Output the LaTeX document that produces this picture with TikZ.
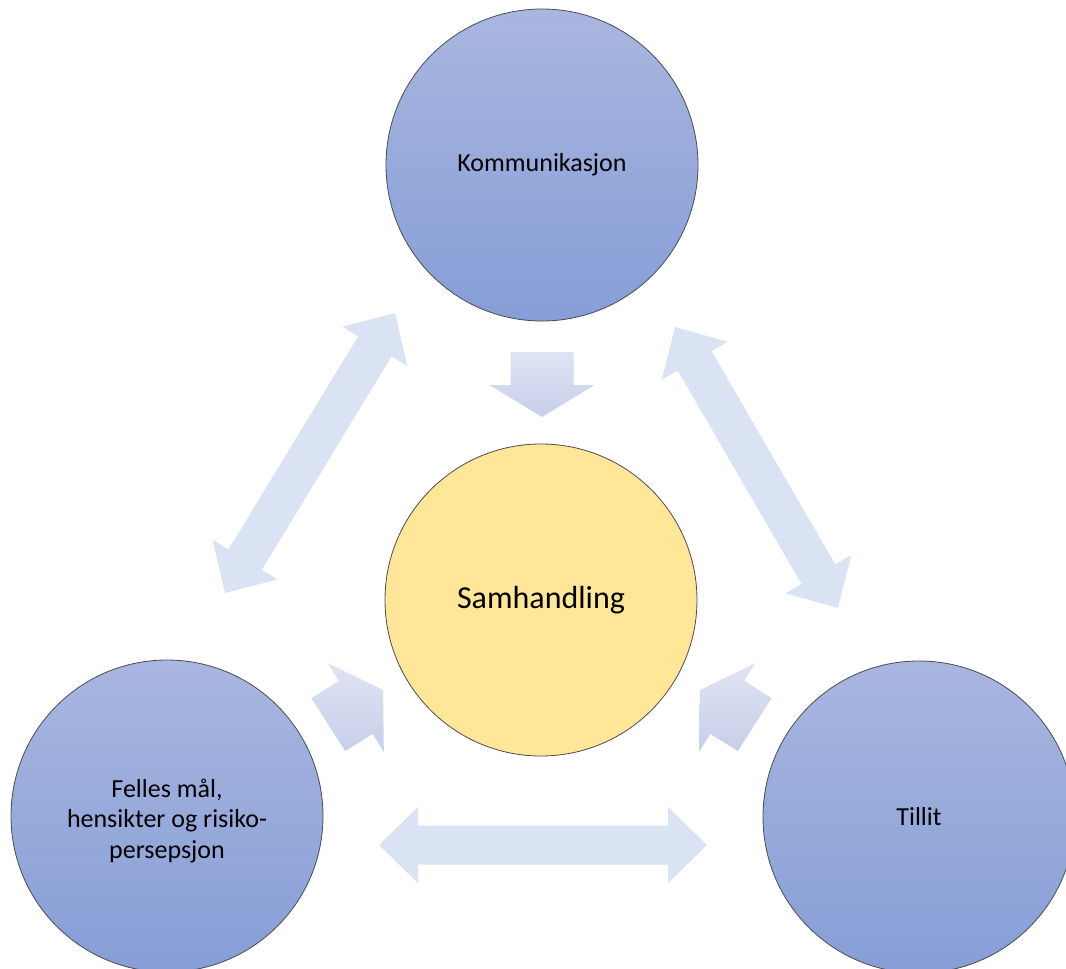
\documentclass[tikz,border=0pt]{standalone}
\usepackage{fontspec}
\setmainfont{Carlito}
\definecolor{circtop}{RGB}{169,182,224}
\definecolor{circbot}{RGB}{134,158,214}
\definecolor{yel}{RGB}{255,230,153}
\definecolor{dbl}{RGB}{218,227,243}
\definecolor{smtop}{RGB}{223,228,244}
\definecolor{smbot}{RGB}{199,206,233}
\definecolor{edgegray}{RGB}{75,75,80}
\tikzset{
  basecirc/.style={circle, minimum size=312pt, inner sep=0pt, draw=edgegray, line width=0.8pt, align=center},
  bluecirc/.style={basecirc, top color=circtop, bottom color=circbot, font=\fontsize{26}{30.5}\selectfont},
  yelcirc/.style={basecirc, fill=yel, font=\fontsize{32}{38}\selectfont},
  dblfill/.style={fill=dbl, draw=none},
  smallfill/.style={top color=smtop, bottom color=smbot, draw=none},
}
\newcommand{\DblArrow}[4]{%
  \begin{scope}[shift={(#1,#2)},rotate=#3]
    \fill[dblfill] (-#4,0) -- ({-#4+39},38) -- ({-#4+39},19.5) -- ({#4-39},19.5) -- ({#4-39},38) -- (#4,0)
      -- ({#4-39},-38) -- ({#4-39},-19.5) -- ({-#4+39},-19.5) -- ({-#4+39},-38) -- cycle;
  \end{scope}}
\begin{document}
\begin{tikzpicture}[x=1pt,y=-1pt]
\useasboundingbox (0,0) rectangle (1066,969);
\clip (0,0) rectangle (1066,969);
\fill[white] (0,0) rectangle (1066,969);

% double arrows between outer circles
\DblArrow{310}{453}{58.7}{163.8}
\DblArrow{756.5}{467.5}{-59.9}{162.4}
\DblArrow{543}{845}{0}{164}

% small arrows toward the centre
\shade[smallfill] (510.5,352) -- (573.5,352) -- (573.5,385) -- (594.5,385) -- (542,417) -- (489.5,385) -- (510.5,385) -- cycle;
\shade[smallfill] (311.4,698.2) -- (338.8,680.8) -- (327.6,663.1) -- (383.1,690.0) -- (383.8,751.7) -- (372.6,734.0) -- (345.2,751.0) -- cycle;
\shade[smallfill] (771.6,698.2) -- (744.2,680.8) -- (755.4,663.1) -- (699.9,690.0) -- (699.2,751.7) -- (710.4,734.0) -- (737.8,751.0) -- cycle;

% circles
\node[bluecirc] (komm) at (542,165) {Kommunikasjon};
\node[yelcirc] (samh) at (541,600) {Samhandling};
\node[bluecirc] (felles) at (167,816) {};
\node[font=\fontsize{26}{30.5}\selectfont, align=center] (fellestext) at (167,821) {Felles mål,\\hensikter og risiko-\\persepsjon};
\node[bluecirc] (tillit) at (919,817) {Tillit};
\end{tikzpicture}
\end{document}
